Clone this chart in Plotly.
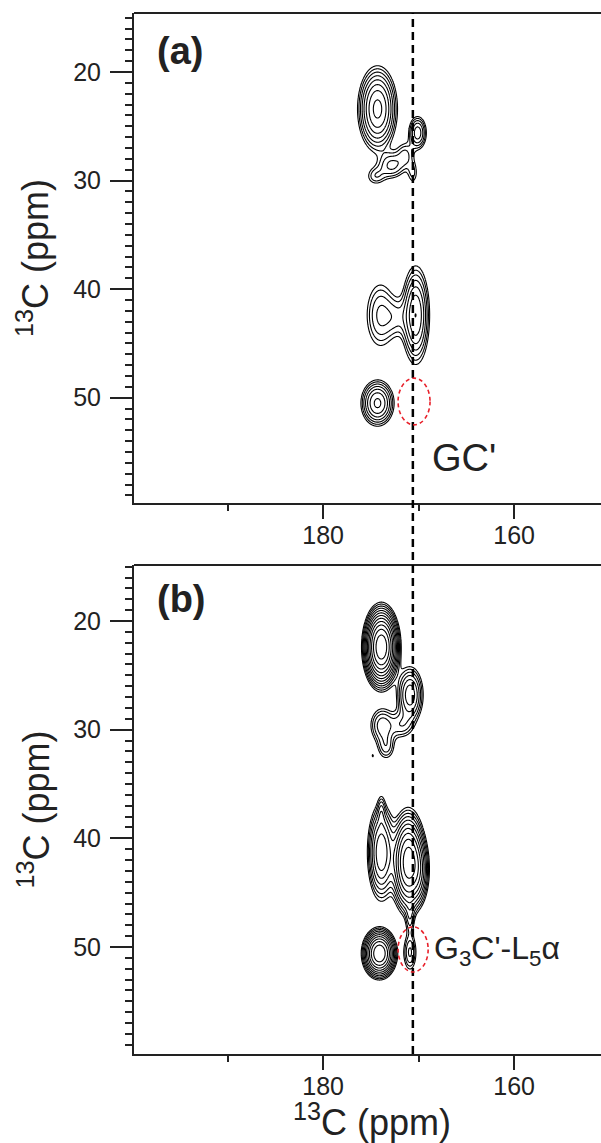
import numpy as np
import plotly.graph_objects as go

# ---------------- data ----------------
# Panel (a) cross-peaks: centre (ppm), widths (ppm), relative amplitude
a_peak_x   = [174.3, 170.1, 172.8, 174.5, 171.4, 170.6, 170.3, 174.0, 172.3, 174.3]
a_peak_y   = [23.4, 25.6, 28.6, 29.6, 27.6, 29.3, 42.4, 42.4, 42.6, 50.5]
a_peak_sx  = [1.00, 0.55, 0.90, 0.70, 0.60, 0.40, 0.77, 1.00, 0.80, 0.90]
a_peak_sy  = [1.90, 0.90, 0.80, 0.60, 0.80, 0.80, 2.40, 2.00, 1.20, 1.10]
a_peak_amp = [9, 4, 2.6, 1.6, 1.8, 1.4, 6, 2.6, 1.4, 6.5]

# Panel (b) cross-peaks
b_peak_x   = [173.9, 170.9, 173.8, 173.4, 171.8, 174.8, 173.9, 173.9, 171.1, 170.0, 170.9, 170.9, 174.1]
b_peak_y   = [22.4, 26.8, 29.6, 31.6, 29.6, 32.4, 41.3, 37.5, 42.2, 43.0, 47.3, 50.5, 50.6]
b_peak_sx  = [0.78, 0.75, 0.80, 0.60, 0.80, 0.08, 0.72, 0.25, 0.80, 0.60, 0.30, 0.45, 0.78]
b_peak_sy  = [1.55, 1.40, 1.00, 0.80, 0.80, 0.15, 2.20, 0.90, 2.10, 1.60, 1.00, 1.10, 1.00]
b_peak_amp = [35, 5.5, 3, 2, 2, 1.1, 8, 1.5, 18, 4, 1.6, 2.6, 20]

contour_factor = 1.35          # geometric spacing of contour levels
gc_line_ppm = 170.6            # dashed reference line (Gly C')
x_range = [199.8, 150.9]
a_y_range = [59.7, 14.56]
b_y_range = [59.85, 14.85]
x_tickvals = [180, 160]
x_minor_vals = [190, 170]
y_tickvals = [20, 30, 40, 50]
a_ellipse = [172.15, 48.2, 168.8, 52.5]
b_ellipse = [172.15, 48.15, 169.0, 52.3]

# ---------------- build spectra ----------------
xg = np.arange(165.0, 179.0, 0.04)
yg = np.arange(15.0, 59.0, 0.05)
X, Y = np.meshgrid(xg, yg)


def spectrum(px, py, sx, sy, amp):
    z = np.full_like(X, 1e-6)
    for x0, y0, wx, wy, a in zip(px, py, sx, sy, amp):
        z += a * np.exp(-0.5 * (((X - x0) / wx) ** 2 + ((Y - y0) / wy) ** 2))
    return np.log(z)


za = spectrum(a_peak_x, a_peak_y, a_peak_sx, a_peak_sy, a_peak_amp)
zb = spectrum(b_peak_x, b_peak_y, b_peak_sx, b_peak_sy, b_peak_amp)
step = np.log(contour_factor)

FONT = "Liberation Sans, Arial, sans-serif"
TXT = "#222222"

fig = go.Figure()
for z, xa, ya in [(za, "x", "y"), (zb, "x2", "y2")]:
    fig.add_trace(go.Contour(
        x=xg, y=yg, z=z, xaxis=xa, yaxis=ya,
        autocontour=False,
        contours=dict(start=0.0, end=float(z.max()), size=step, coloring="lines"),
        colorscale=[[0, "black"], [1, "black"]],
        line=dict(width=1.1), showscale=False, hoverinfo="skip",
    ))

W, H = 601, 1143
ml, mr, mt, mb = 134, 0, 13, 89
ph = H - mt - mb
pw = W - ml - mr
a_dom = [(1054 - 503) / ph, 1.0]
b_dom = [0.0, (1054 - 565) / ph]

xcommon = dict(
    range=x_range, showline=True, linecolor="#222", linewidth=2,
    ticks="outside", ticklen=14, tickwidth=2, tickcolor="#222",
    tickvals=x_tickvals, ticktext=[str(v) for v in x_tickvals],
    minor=dict(tickvals=x_minor_vals, ticklen=6, tickwidth=2, tickcolor="#222", ticks="outside"),
    showgrid=False, zeroline=False, ticklabelstandoff=-5,
    tickfont=dict(family=FONT, size=25, color=TXT),
)
ycommon = dict(
    showline=True, linecolor="#222", linewidth=2,
    ticks="outside", ticklen=22, tickwidth=2, tickcolor="#222",
    tickvals=y_tickvals, ticktext=[str(v) for v in y_tickvals],
    minor=dict(dtick=1, tick0=0, ticklen=7, tickwidth=2, tickcolor="#222", ticks="outside"),
    showgrid=False, zeroline=False, ticklabelstandoff=4,
    tickfont=dict(family=FONT, size=25, color=TXT),
)

fig.update_layout(
    width=W, height=H, margin=dict(l=ml, r=mr, t=mt, b=mb),
    paper_bgcolor="white", plot_bgcolor="white", showlegend=False,
    xaxis=dict(xcommon, anchor="y", domain=[0, 1]),
    yaxis=dict(ycommon, anchor="x", domain=a_dom, range=a_y_range),
    xaxis2=dict(xcommon, anchor="y2", domain=[0, 1]),
    yaxis2=dict(ycommon, anchor="x2", domain=b_dom, range=b_y_range),
)

shapes = []
# top frame lines
for xr, yr in [("x domain", "y domain"), ("x2 domain", "y2 domain")]:
    shapes.append(dict(type="line", xref=xr, yref=yr, x0=0, x1=1, y0=1, y1=1,
                       line=dict(color="#222", width=2)))
# dashed reference line through both panels
shapes.append(dict(type="line", xref="x", yref="paper", x0=gc_line_ppm, x1=gc_line_ppm,
                   y0=0, y1=1, line=dict(color="black", width=2.5, dash="8px,5px")))
# red dashed ellipses
for (x0, y0, x1, y1), xr, yr in [(a_ellipse, "x", "y"), (b_ellipse, "x2", "y2")]:
    shapes.append(dict(type="circle", xref=xr, yref=yr, x0=x0, x1=x1, y0=y0, y1=y1,
                       line=dict(color="#e8202a", width=1.6, dash="4px,3px")))
fig.update_layout(shapes=shapes)

ann = []
ann.append(dict(text="<b>(a)</b>", xref="paper", yref="paper",
                x=(155 - ml) / pw, y=(1054 - 51) / ph, xanchor="left", yanchor="middle",
                showarrow=False, font=dict(family=FONT, size=38, color=TXT)))
ann.append(dict(text="<b>(b)</b>", xref="paper", yref="paper",
                x=(155 - ml) / pw, y=(1054 - 599) / ph, xanchor="left", yanchor="middle",
                showarrow=False, font=dict(family=FONT, size=38, color=TXT)))
ann.append(dict(text="GC'", xref="x", yref="y", x=168.8, y=55.6,
                xanchor="left", yanchor="middle", showarrow=False,
                font=dict(family=FONT, size=38, color=TXT)))
ann.append(dict(text="G<sub>3</sub>C'-L<sub>5</sub>α", xref="x2", yref="y2", x=168.6, y=50.3,
                xanchor="left", yanchor="middle", showarrow=False,
                font=dict(family=FONT, size=32, color=TXT)))
for dom in (a_dom, b_dom):
    ann.append(dict(text="<sup>13</sup>C (ppm)", xref="paper", yref="paper",
                    x=(33 - ml) / pw, y=(dom[0] + dom[1]) / 2, textangle=-90,
                    xanchor="center", yanchor="middle", showarrow=False,
                    font=dict(family=FONT, size=36, color=TXT)))
ann.append(dict(text="<sup>13</sup>C (ppm)", xref="paper", yref="paper",
                x=(372 - ml) / pw, y=(1054 - 1120) / ph,
                xanchor="center", yanchor="middle", showarrow=False,
                font=dict(family=FONT, size=36, color=TXT)))
fig.update_layout(annotations=ann)

fig.write_html("out.html")
